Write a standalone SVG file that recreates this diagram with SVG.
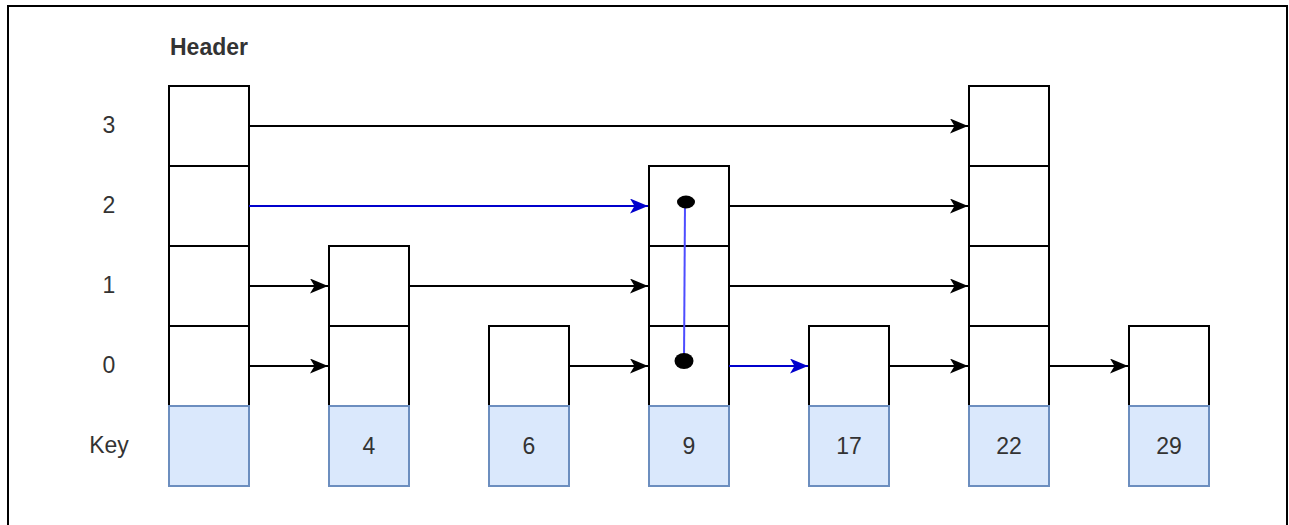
<svg xmlns="http://www.w3.org/2000/svg" width="1289" height="525" viewBox="0 0 1289 525">
<style>
.c{fill:#fff;stroke:#000;stroke-width:2}
.k{fill:#dae8fc;stroke:#6c8ebf;stroke-width:2}
.t{font-family:"Liberation Sans",Arial,sans-serif;font-size:23px;fill:#333;text-anchor:middle;dominant-baseline:central}
.e{fill:none;stroke:#000;stroke-width:2}
.b{fill:none;stroke:#0000cc;stroke-width:2}
</style>
<defs>
<marker id="ab" viewBox="0 0 18 15" refX="18" refY="7.5" markerWidth="18" markerHeight="15" markerUnits="userSpaceOnUse" orient="auto"><path d="M0,0 L18,7.5 L0,15 L4.5,7.5 Z" fill="#000"/></marker>
<marker id="ax" viewBox="0 0 18 15" refX="18" refY="7.5" markerWidth="18" markerHeight="15" markerUnits="userSpaceOnUse" orient="auto"><path d="M0,0 L18,7.5 L0,15 L4.5,7.5 Z" fill="#0000cc"/></marker>
</defs>
<rect width="1289" height="525" fill="#fff"/>
<path d="M8,530 V6 H1287 V530" fill="none" stroke="#000" stroke-width="2"/>
<g id="labels">
<text x="170" y="47" style="font-family:'Liberation Sans',Arial,sans-serif;font-size:23px;font-weight:bold;fill:#333;dominant-baseline:central">Header</text>
<text class="t" x="109" y="125">3</text>
<text class="t" x="109" y="205">2</text>
<text class="t" x="109" y="285">1</text>
<text class="t" x="109" y="365">0</text>
<text class="t" x="109" y="445">Key</text>
</g>
<g id="node-header">
<rect class="c" x="169" y="86" width="80" height="80"/>
<rect class="c" x="169" y="166" width="80" height="80"/>
<rect class="c" x="169" y="246" width="80" height="80"/>
<rect class="c" x="169" y="326" width="80" height="80"/>
<rect class="k" x="169" y="406" width="80" height="80"/>
</g>
<g id="node-4">
<rect class="c" x="329" y="246" width="80" height="80"/>
<rect class="c" x="329" y="326" width="80" height="80"/>
<rect class="k" x="329" y="406" width="80" height="80"/>
<text class="t" x="369" y="446">4</text>
</g>
<g id="node-6">
<rect class="c" x="489" y="326" width="80" height="80"/>
<rect class="k" x="489" y="406" width="80" height="80"/>
<text class="t" x="529" y="446">6</text>
</g>
<g id="node-9">
<rect class="c" x="649" y="166" width="80" height="80"/>
<rect class="c" x="649" y="246" width="80" height="80"/>
<rect class="c" x="649" y="326" width="80" height="80"/>
<rect class="k" x="649" y="406" width="80" height="80"/>
<text class="t" x="689" y="446">9</text>
</g>
<g id="node-17">
<rect class="c" x="809" y="326" width="80" height="80"/>
<rect class="k" x="809" y="406" width="80" height="80"/>
<text class="t" x="849" y="446">17</text>
</g>
<g id="node-22">
<rect class="c" x="969" y="86" width="80" height="80"/>
<rect class="c" x="969" y="166" width="80" height="80"/>
<rect class="c" x="969" y="246" width="80" height="80"/>
<rect class="c" x="969" y="326" width="80" height="80"/>
<rect class="k" x="969" y="406" width="80" height="80"/>
<text class="t" x="1009" y="446">22</text>
</g>
<g id="node-29">
<rect class="c" x="1129" y="326" width="80" height="80"/>
<rect class="k" x="1129" y="406" width="80" height="80"/>
<text class="t" x="1169" y="446">29</text>
</g>
<g id="connectors">
<line class="e" x1="249" y1="126" x2="968" y2="126" marker-end="url(#ab)"/>
<line class="b" x1="249" y1="206" x2="648" y2="206" marker-end="url(#ax)"/>
<line class="e" x1="729" y1="206" x2="968" y2="206" marker-end="url(#ab)"/>
<line class="e" x1="249" y1="286" x2="328" y2="286" marker-end="url(#ab)"/>
<line class="e" x1="409" y1="286" x2="648" y2="286" marker-end="url(#ab)"/>
<line class="e" x1="729" y1="286" x2="968" y2="286" marker-end="url(#ab)"/>
<line class="e" x1="249" y1="366" x2="328" y2="366" marker-end="url(#ab)"/>
<line class="e" x1="569" y1="366" x2="648" y2="366" marker-end="url(#ab)"/>
<line class="b" x1="729" y1="366" x2="808" y2="366" marker-end="url(#ax)"/>
<line class="e" x1="889" y1="366" x2="968" y2="366" marker-end="url(#ab)"/>
<line class="e" x1="1049" y1="366" x2="1128" y2="366" marker-end="url(#ab)"/>
<line x1="685" y1="202" x2="684" y2="361" stroke="#4d4dff" stroke-width="2"/>
<ellipse cx="686" cy="202" rx="9" ry="6.5" fill="#000"/>
<ellipse cx="684" cy="361" rx="9.5" ry="8" fill="#000"/>
</g>
</svg>
